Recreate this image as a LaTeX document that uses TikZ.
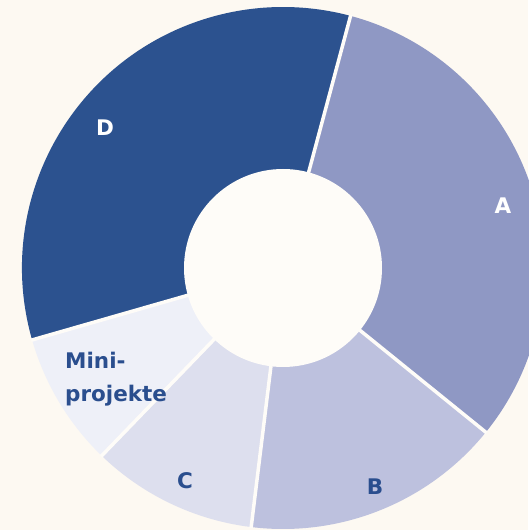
\documentclass[tikz,border=0pt]{standalone}
\usepackage{fontspec}
\newfontfamily\labfont{DejaVu Sans}
\definecolor{bg}{HTML}{FDF9F2}
\definecolor{hole}{HTML}{FEFCF8}
\definecolor{colD}{HTML}{2C528F}
\definecolor{colA}{HTML}{8F98C4}
\definecolor{colB}{HTML}{BDC1DE}
\definecolor{colC}{HTML}{DDDFEE}
\definecolor{colM}{HTML}{EEF0F8}
\definecolor{txt}{HTML}{2A4E8E}
\tikzset{
  sep/.style={draw=hole, line width=3.5pt},
  lab/.style={font=\labfont\bfseries\fontsize{21.5}{26}\selectfont, inner sep=0pt},
}
\begin{document}
\begin{tikzpicture}[x=1pt,y=1pt]
\useasboundingbox (0,0) rectangle (528,530);
\fill[bg] (0,0) rectangle (528,530);
\coordinate (c) at (283,262);
\def\R{261}
\def\r{99}
% sectors
\fill[colA] (c) -- ++(75:\R) arc[start angle=75, end angle=-39, radius=\R] -- cycle;
\fill[colB] (c) -- ++(-39:\R) arc[start angle=-39, end angle=-97, radius=\R] -- cycle;
\fill[colC] (c) -- ++(-97:\R) arc[start angle=-97, end angle=-134, radius=\R] -- cycle;
\fill[colM] (c) -- ++(-134:\R) arc[start angle=-134, end angle=-164, radius=\R] -- cycle;
\fill[colD] (c) -- ++(-164:\R) arc[start angle=-164, end angle=-285, radius=\R] -- cycle;
% separators
\foreach \a in {75,-39,-97,-134,-164} \draw[sep] (c) -- ++(\a:\R+1);
% hole
\fill[hole] (c) circle[radius=\r];
% labels
\node[lab, text=white] (labD) at (105,402) {D};
\node[lab, text=white] (labA) at (503,324) {A};
\node[lab, text=txt] (labB) at (375,43) {B};
\node[lab, text=txt] (labC) at (185,49) {C};
\node[lab, text=txt, anchor=base west] (labM1) at (65,161) {Mini-};
\node[lab, text=txt, anchor=base west] (labM2) at (65,128) {projekte};
\end{tikzpicture}
\end{document}
